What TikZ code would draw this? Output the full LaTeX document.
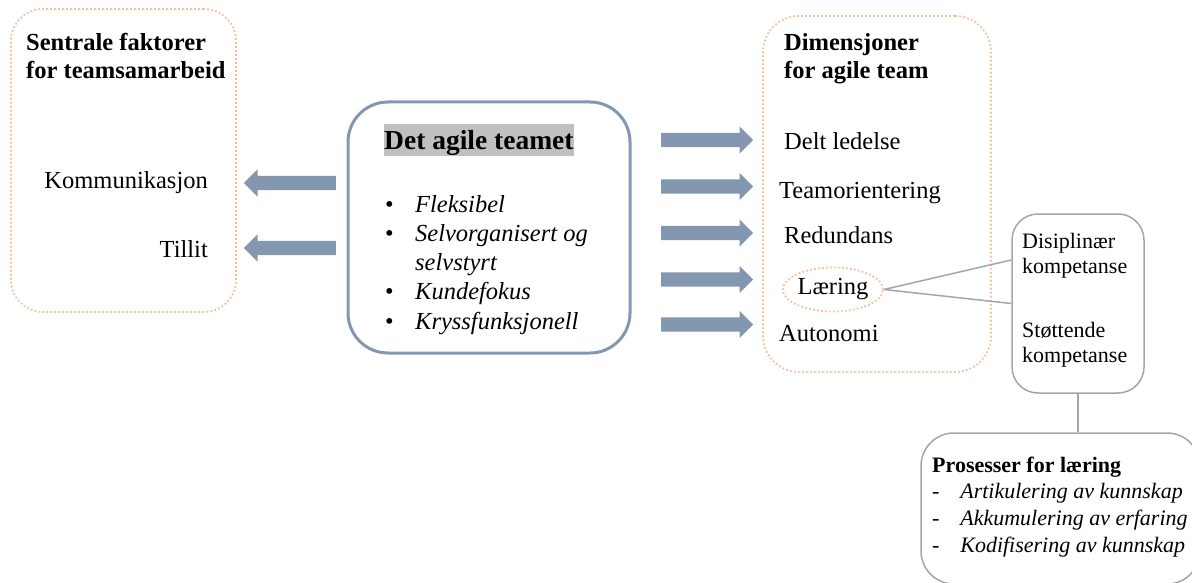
\documentclass[tikz,border=0pt]{standalone}
\usepackage{fontspec}
\setmainfont{Liberation Serif}
\usetikzlibrary{shapes.geometric,shapes.arrows}
\definecolor{slate}{RGB}{132,151,176}
\definecolor{peach}{RGB}{246,192,158}
\definecolor{boxgray}{RGB}{165,165,165}
\definecolor{hlgray}{RGB}{192,192,192}
\begin{document}
\begin{tikzpicture}[x=1pt,y=-1pt,
  txt/.style={inner sep=0pt, anchor=base west, font=\fontsize{24.5}{28}\selectfont},
  ttl/.style={inner sep=0pt, anchor=base west, font=\fontsize{24.5}{27.5}\selectfont\bfseries},
  smalltxt/.style={inner sep=0pt, anchor=base west, font=\fontsize{22}{25}\selectfont},
  dotbox/.style={draw=peach, line width=1.8pt, dash pattern=on 1.8pt off 2.2pt, inner sep=0pt},
  graybox/.style={draw=boxgray, line width=1.5pt, inner sep=0pt},
  link/.style={draw=boxgray, line width=1.5pt},
  blockarrow/.style={single arrow, fill=slate, draw=none, inner xsep=0pt, inner ysep=7pt,
    minimum height=92pt, single arrow head extend=6.5pt, single arrow tip angle=90}
]
\useasboundingbox (0,0) rectangle (1192,583);

% boxes
\node[dotbox, rounded corners=32pt, minimum width=225pt, minimum height=303pt] (lbox) at (123.5,160.5) {};
\node[draw=slate, line width=3pt, rounded corners=40pt, minimum width=282pt, minimum height=251pt, inner sep=0pt] (cbox) at (489,227.5) {};
\node[dotbox, rounded corners=36pt, minimum width=228pt, minimum height=356pt] (rbox) at (877,194) {};
\node[graybox, rounded corners=26pt, minimum width=132pt, minimum height=179pt] (dbox) at (1078,303.5) {};
\node[graybox, rounded corners=33pt, minimum width=279pt, minimum height=151pt] (pbox) at (1060.5,508.5) {};

% left column
\node[ttl] (ltitle) at (26,51) {\begin{tabular}[t]{@{}l@{}}Sentrale faktorer\\for teamsamarbeid\end{tabular}};
\node[txt, anchor=base east] (komm) at (208,189) {Kommunikasjon};
\node[txt, anchor=base east] (tillit) at (208,257) {Tillit};

% centre
\node[inner xsep=0pt, inner ysep=0pt, anchor=base west, fill=hlgray, text height=26pt, text depth=6pt,
  font=\fontsize{27.5}{30}\selectfont\bfseries] (ctitle) at (384,150) {Det agile teamet};
\node[inner sep=0pt, anchor=base west, font=\fontsize{24.5}{29.3}\selectfont] (clist) at (385,212)
  {\begin{tabular}[t]{@{}l@{\hspace{21.4pt}}l@{}}
   \textbullet & \textit{Fleksibel}\\
   \textbullet & \textit{Selvorganisert og}\\
               & \textit{selvstyrt}\\
   \textbullet & \textit{Kundefokus}\\
   \textbullet & \textit{Kryssfunksjonell}
   \end{tabular}};

% right column
\node[ttl] (rtitle) at (784,51) {\begin{tabular}[t]{@{}l@{}}Dimensjoner\\for agile team\end{tabular}};
\node[txt] (delt) at (784,150) {Delt ledelse};
\node[txt] (team) at (779,198) {Teamorientering};
\node[txt] (redund) at (784,243) {Redundans};
\node[ellipse, dotbox, minimum width=96pt, minimum height=44pt, font=\fontsize{24.5}{28}\selectfont] (laering) at (833,289.5) {Læring};
\node[txt] (auto) at (779,341) {Autonomi};

% competence box text
\node[smalltxt] (komp) at (1022,248) {\begin{tabular}[t]{@{}l@{}}Disiplinær\\kompetanse\\[39pt]Støttende\\kompetanse\end{tabular}};

% processes box text
\node[inner sep=0pt, anchor=base west, font=\fontsize{22}{26.7}\selectfont] (proc) at (932,472)
  {\begin{tabular}[t]{@{}l@{\hspace{20.8pt}}l@{}}
   \multicolumn{2}{@{}l@{}}{\textbf{Prosesser for læring}}\\
   - & \textit{Artikulering av kunnskap}\\
   - & \textit{Akkumulering av erfaring}\\
   - & \textit{Kodifisering av kunnskap}
   \end{tabular}};

% block arrows
\node[blockarrow, shape border rotate=180, anchor=tail] (al1) at (336,183) {};
\node[blockarrow, shape border rotate=180, anchor=tail] (al2) at (336,248) {};
\node[blockarrow, anchor=tail] (ar1) at (661,140) {};
\node[blockarrow, anchor=tail] (ar2) at (661,186.5) {};
\node[blockarrow, anchor=tail] (ar3) at (661,233) {};
\node[blockarrow, anchor=tail] (ar4) at (661,279.5) {};
\node[blockarrow, anchor=tail] (ar5) at (661,324.5) {};

% connectors
\draw[link] (laering.east) -- ([yshift=43.5pt]dbox.west);
\draw[link] (laering.east) -- (dbox.west);
\draw[link] (dbox.south) -- (dbox.south |- pbox.north);
\end{tikzpicture}
\end{document}
